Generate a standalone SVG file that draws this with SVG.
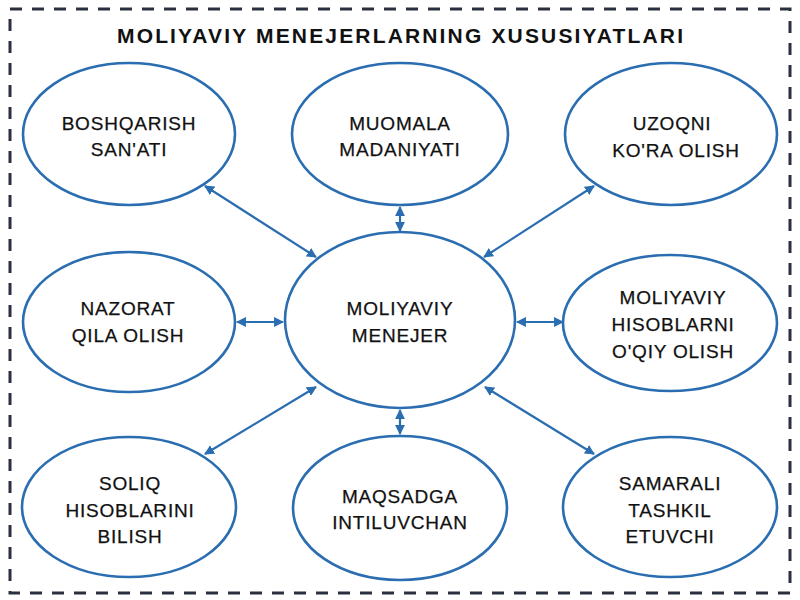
<svg xmlns="http://www.w3.org/2000/svg" width="800" height="600" viewBox="0 0 800 600">
<defs>
<style>
.el{fill:#ffffff;stroke:#2a6db0;stroke-width:2.6}
.t{font-family:"Liberation Sans",Arial,sans-serif;font-size:19px;fill:#111;text-anchor:middle;letter-spacing:0.8px;stroke:#111;stroke-width:0.25}
.title{font-family:"Liberation Sans",Arial,sans-serif;font-size:21px;font-weight:bold;fill:#111;text-anchor:middle}
.c{stroke:#2a6db0;stroke-width:2.2;fill:none;marker-start:url(#ah);marker-end:url(#ah)}
</style>
<marker id="ah" viewBox="0 0 10 10" refX="9" refY="5" markerWidth="4.5" markerHeight="4.5" orient="auto-start-reverse" markerUnits="strokeWidth">
<path d="M0,0 L10,5 L0,10 z" fill="#2a6db0"/>
</marker>
</defs>
<rect x="0" y="0" width="800" height="600" fill="#ffffff"/>
<rect x="10" y="9" width="780" height="584" fill="none" stroke="#2b3040" stroke-width="3" stroke-dasharray="12,10"/>
<text class="title" x="400" y="43" textLength="566" lengthAdjust="spacing">MOLIYAVIY MENEJERLARNING XUSUSIYATLARI</text>
<g id="connectors">
<line class="c" x1="205" y1="186" x2="316" y2="257"/>
<line class="c" x1="400" y1="207" x2="400" y2="231"/>
<line class="c" x1="594" y1="186" x2="484" y2="257"/>
<line class="c" x1="237" y1="322" x2="283" y2="322"/>
<line class="c" x1="517" y1="322" x2="563" y2="322"/>
<line class="c" x1="316" y1="387" x2="205" y2="454"/>
<line class="c" x1="400" y1="410" x2="400" y2="434"/>
<line class="c" x1="485" y1="387" x2="594" y2="454"/>
</g>
<g id="boshqarish">
<ellipse class="el" cx="129" cy="134" rx="106" ry="71"/>
<text class="t" x="129" y="130">BOSHQARISH</text>
<text class="t" x="129" y="156">SAN'ATI</text>
</g>
<g id="muomala">
<ellipse class="el" cx="400" cy="134" rx="108" ry="71"/>
<text class="t" x="400" y="130">MUOMALA</text>
<text class="t" x="400" y="156">MADANIYATI</text>
</g>
<g id="uzoqni">
<ellipse class="el" cx="671" cy="134" rx="106" ry="71"/>
<text class="t" x="672" y="130">UZOQNI</text>
<text class="t" x="676" y="157">KO'RA OLISH</text>
</g>
<g id="nazorat">
<ellipse class="el" cx="129" cy="322" rx="106" ry="70"/>
<text class="t" x="128" y="315">NAZORAT</text>
<text class="t" x="128" y="342">QILA OLISH</text>
</g>
<g id="center">
<ellipse class="el" cx="400" cy="320" rx="115" ry="88"/>
<text class="t" x="400" y="315">MOLIYAVIY</text>
<text class="t" x="400" y="342">MENEJER</text>
</g>
<g id="hisoblarni">
<ellipse class="el" cx="670" cy="323" rx="107" ry="68"/>
<text class="t" x="673" y="304">MOLIYAVIY</text>
<text class="t" x="673" y="331">HISOBLARNI</text>
<text class="t" x="673" y="358">O'QIY OLISH</text>
</g>
<g id="soliq">
<ellipse class="el" cx="129" cy="507" rx="107" ry="70"/>
<text class="t" x="130" y="490">SOLIQ</text>
<text class="t" x="130" y="517">HISOBLARINI</text>
<text class="t" x="130" y="543">BILISH</text>
</g>
<g id="maqsadga">
<ellipse class="el" cx="400" cy="508" rx="107" ry="72"/>
<text class="t" x="400" y="503">MAQSADGA</text>
<text class="t" x="400" y="529">INTILUVCHAN</text>
</g>
<g id="samarali">
<ellipse class="el" cx="670" cy="507" rx="107" ry="70"/>
<text class="t" x="670" y="490">SAMARALI</text>
<text class="t" x="670" y="517">TASHKIL</text>
<text class="t" x="670" y="543">ETUVCHI</text>
</g>
</svg>
